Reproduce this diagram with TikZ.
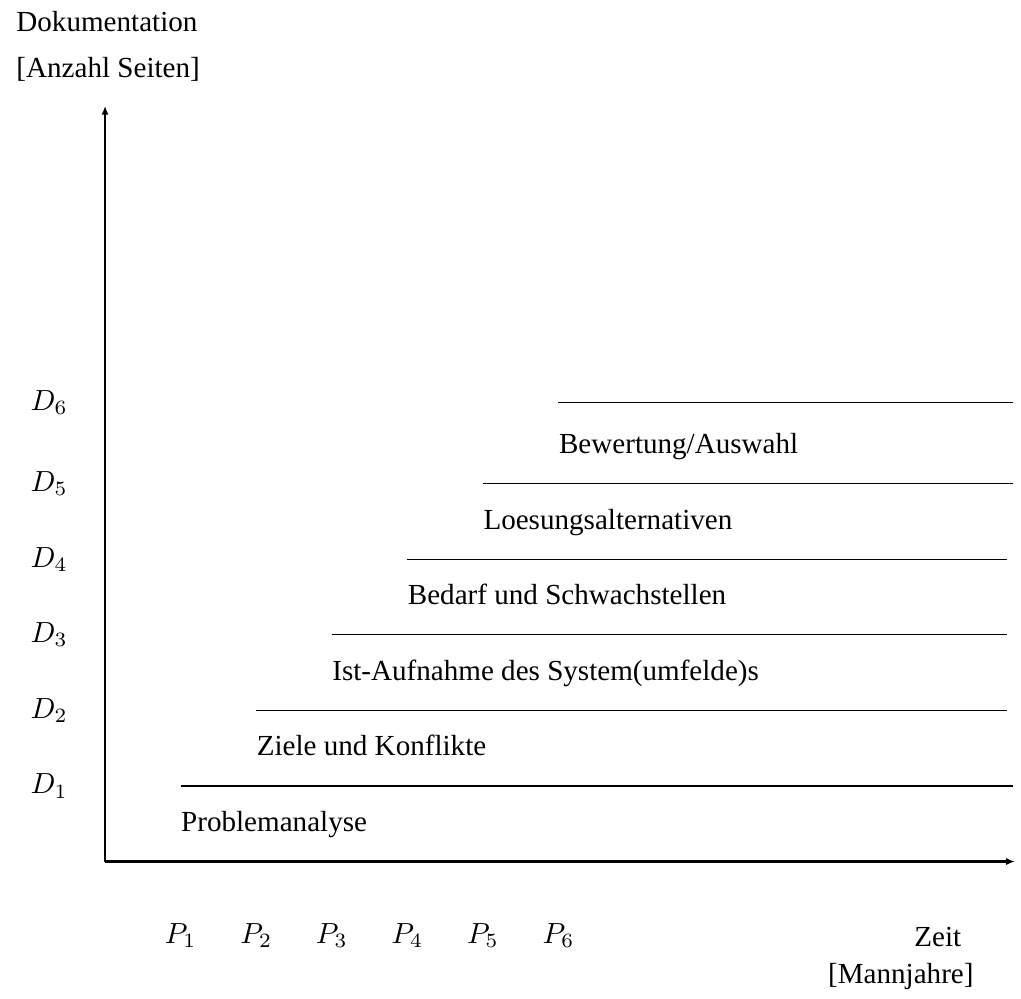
\documentclass[tikz,border=0pt]{standalone}
\usepackage{fontspec}
\setmainfont{Liberation Serif}
\usetikzlibrary{arrows.meta}
\tikzset{
    axis/.style={line width=0.8pt, -{Latex[length=3pt,width=2.4pt]}},
    level/.style={line width=0.4pt},
    phase/.style={anchor=base west, inner sep=0pt},
    dlabel/.style={anchor=center},
    plabel/.style={anchor=base, inner sep=0pt},
    caption/.style={anchor=base west, inner sep=0pt}
}
\begin{document}
\begin{tikzpicture}[x=0.913cm, y=0.913cm]
    \useasboundingbox (-1.39,-1.81) rectangle (12.12,11.40);
    % axes
    \coordinate (origin) at (0,0);
    \coordinate (ytip) at (0,10);
    \coordinate (xtip) at (12.04,0);
    \draw[axis] (origin) -- (ytip);
    \draw[axis] (origin) -- (xtip);
    \node[caption] (doku) at (-1.18,10.98) {Dokumentation};
    \node[caption] (seiten) at (-1.18,10.38) {[Anzahl Seiten]};
    \node[plabel] (zeit) at (11.02,-1.12) {Zeit};
    \node[plabel] (mannjahre) at (10.53,-1.62) {[Mannjahre]};
    % phases
    \foreach \i/\yl/\xe/\name in {1/1/12.02/{Problemanalyse},
                                  2/2/11.93/{Ziele und Konflikte},
                                  3/3/11.93/{Ist-Aufnahme des System(umfelde)s},
                                  4/4/11.93/{Bedarf und Schwachstellen},
                                  5/5/12.01/{Loesungsalternativen},
                                  6/6.07/12.01/{Bewertung/Auswahl}}
    {
        \coordinate (s\i) at (\i,\yl);
        \coordinate (e\i) at (\xe,\yl);
        \draw[level] (s\i) -- (e\i);
        \node[phase] (ph\i) at (\i,\i-0.6) {\name};
        \node[dlabel] (d\i) at (-0.74,\yl) {$D_{\i}$};
        \node[plabel] (p\i) at (\i,-1.08) {$P_{\i}$};
    }
\end{tikzpicture}
\end{document}
